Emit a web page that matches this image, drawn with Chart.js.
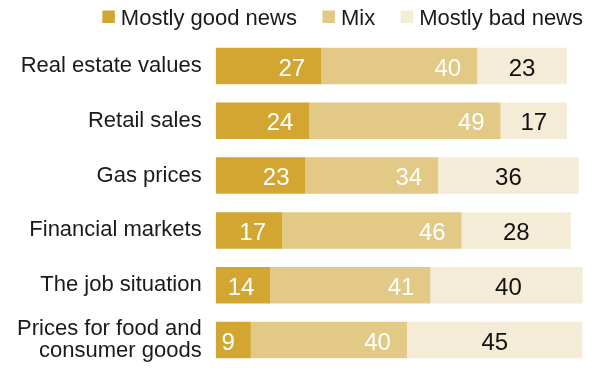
<!DOCTYPE html>
<html>
<head>
<meta charset="utf-8">
<script src="https://cdn.jsdelivr.net/npm/chart.js@4/dist/chart.umd.min.js"></script>
<style>
  html, body { margin: 0; padding: 0; background: #ffffff; overflow: hidden; }
  canvas { display: block; }
</style>
</head>
<body>
<canvas id="c" width="593" height="368"></canvas>
<script>
// Survey items (multi-line labels are arrays)
const categories = [
  'Real estate values',
  'Retail sales',
  'Gas prices',
  'Financial markets',
  'The job situation',
  ['Prices for food and', 'consumer goods']
];

const seriesNames = ['Mostly good news', 'Mix', 'Mostly bad news'];

// Percent hearing each kind of news
const goodNews = [27, 24, 23, 17, 14, 9];
const mixNews  = [40, 49, 34, 46, 41, 40];
const badNews  = [23, 17, 36, 28, 40, 45];

const colors = ['#D2A630', '#E2C985', '#F5ECD7'];
const labelColors = ['#ffffff', '#ffffff', '#111111'];

const FONT = "'Liberation Sans', Arial, sans-serif";

// Value labels: first two segments right-aligned, last one centered
const valueLabels = {
  id: 'valueLabels',
  afterDatasetsDraw(chart) {
    const ctx = chart.ctx;
    ctx.save();
    ctx.font = '24px ' + FONT;
    ctx.textBaseline = 'alphabetic';
    chart.data.datasets.forEach((ds, di) => {
      const meta = chart.getDatasetMeta(di);
      meta.data.forEach((bar, i) => {
        const txt = String(ds.data[i]);
        ctx.fillStyle = labelColors[di];
        const y = bar.y + 9.5;
        if (di < 2) {
          ctx.textAlign = 'right';
          ctx.fillText(txt, bar.x - 16, y);
        } else {
          ctx.textAlign = 'center';
          ctx.fillText(txt, (bar.x + bar.base) / 2, y);
        }
      });
    });
    ctx.restore();
  }
};

// Legend row across the top, right-aligned
const topLegend = {
  id: 'topLegend',
  afterDraw(chart) {
    const ctx = chart.ctx;
    ctx.save();
    ctx.font = '22px ' + FONT;
    ctx.textBaseline = 'alphabetic';
    ctx.textAlign = 'left';
    const box = 12.5, boxGap = 6, itemGap = 25.5, right = 583;
    const widths = seriesNames.map(n => ctx.measureText(n).width);
    let total = 0;
    widths.forEach((w, i) => { total += box + boxGap + w + (i < widths.length - 1 ? itemGap : 0); });
    let x = right - total;
    seriesNames.forEach((n, i) => {
      ctx.fillStyle = colors[i];
      ctx.fillRect(x, 10.5, box, 12.5);
      ctx.fillStyle = '#1a1a1a';
      ctx.fillText(n, x + box + boxGap, 24.5);
      x += box + boxGap + widths[i] + itemGap;
    });
    ctx.restore();
  }
};

new Chart(document.getElementById('c'), {
  type: 'bar',
  data: {
    labels: categories,
    datasets: [
      { label: seriesNames[0], data: goodNews, backgroundColor: colors[0] },
      { label: seriesNames[1], data: mixNews,  backgroundColor: colors[1] },
      { label: seriesNames[2], data: badNews,  backgroundColor: colors[2] }
    ]
  },
  options: {
    indexAxis: 'y',
    responsive: false,
    maintainAspectRatio: false,
    devicePixelRatio: 1,
    animation: false,
    datasets: {
      bar: { categoryPercentage: 1, barPercentage: 0.666, borderWidth: 0 }
    },
    layout: { padding: { top: 38.6, bottom: 0.6, left: 0, right: 10.4 } },
    plugins: {
      legend: { display: false },
      tooltip: { enabled: false }
    },
    scales: {
      x: {
        stacked: true,
        display: false,
        min: 0,
        max: 94
      },
      y: {
        stacked: true,
        grid: { display: false, drawTicks: false },
        border: { display: false },
        ticks: {
          color: '#1a1a1a',
          padding: 14,
          font: { family: FONT, size: 22, lineHeight: 1.02 }
        },
        afterFit(scale) {
          scale.width = 215.7;
          scale.paddingTop = 0;
          scale.paddingBottom = 0;
        }
      }
    }
  },
  plugins: [valueLabels, topLegend]
});
</script>
</body>
</html>
